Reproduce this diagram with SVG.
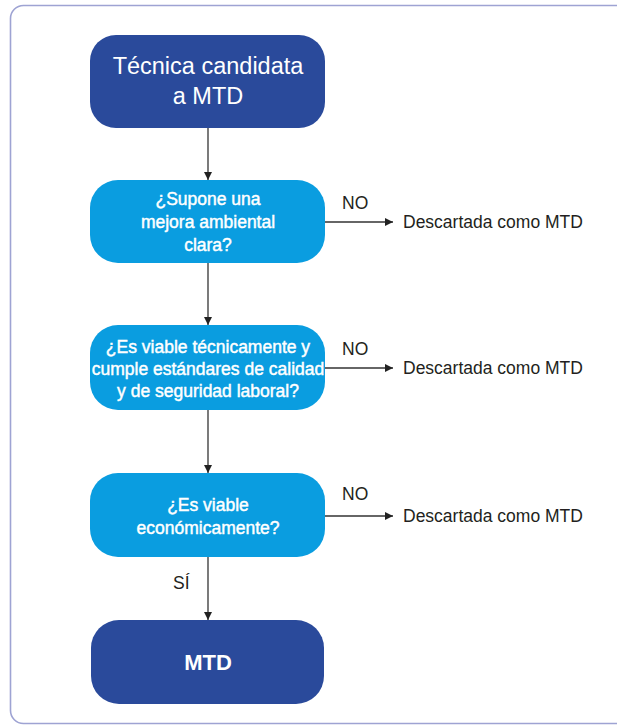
<svg xmlns="http://www.w3.org/2000/svg" width="617" height="725" viewBox="0 0 617 725">
<defs>
<marker id="ah" viewBox="0 0 10 10" refX="10" refY="5" markerWidth="8" markerHeight="8" markerUnits="userSpaceOnUse" orient="auto">
<path d="M0,0 L10,5 L0,10 Z" fill="#222"/>
</marker>
</defs>
<style>
.frame{fill:#fff;stroke:#9ea3d3;stroke-width:1.6}
.dark{fill:#2a4a9b}
.cyan{fill:#0a9de0}
.wt{font-family:"Liberation Sans",Arial,sans-serif;fill:#fff;text-anchor:middle}
.q{font-size:17.5px;stroke:#fff;stroke-width:0.45}
.lbl{font-family:"Liberation Sans",Arial,sans-serif;fill:#231f20;font-size:17.5px}
.conn{stroke:#333;stroke-width:1.3;fill:none;marker-end:url(#ah)}
</style>
<rect x="0" y="0" width="617" height="725" fill="#fff"/>
<rect class="frame" x="10.5" y="5.5" width="670" height="718" rx="13"/>
<g id="n1">
<rect class="dark" x="90" y="35" width="235" height="93" rx="26"/>
<text class="wt" x="208" y="74" font-size="23.5">Técnica candidata</text>
<text class="wt" x="208" y="104" font-size="23.5">a MTD</text>
</g>
<g id="n2">
<rect class="cyan" x="90" y="180" width="235" height="83" rx="28"/>
<text class="wt q" x="208" y="205">¿Supone una</text>
<text class="wt q" x="208" y="228">mejora ambiental</text>
<text class="wt q" x="208" y="251">clara?</text>
</g>
<g id="n3">
<rect class="cyan" x="90" y="325" width="235" height="85" rx="28"/>
<text class="wt q" x="208" y="353">¿Es viable técnicamente y</text>
<text class="wt q" x="208" y="375">cumple estándares de calidad</text>
<text class="wt q" x="208" y="397">y de seguridad laboral?</text>
</g>
<g id="n4">
<rect class="cyan" x="90" y="473" width="235" height="84" rx="28"/>
<text class="wt q" x="208" y="511">¿Es viable</text>
<text class="wt q" x="208" y="534">económicamente?</text>
</g>
<g id="n5">
<rect class="dark" x="91" y="620" width="233" height="84" rx="28"/>
<text class="wt" x="208" y="670" font-size="22" font-weight="bold">MTD</text>
</g>
<g id="connectors">
<line class="conn" x1="208" y1="128" x2="208" y2="180"/>
<line class="conn" x1="208" y1="263" x2="208" y2="325"/>
<line class="conn" x1="208" y1="410" x2="208" y2="473"/>
<line class="conn" x1="208" y1="557" x2="208" y2="620"/>
<line class="conn" x1="325" y1="222" x2="393" y2="222"/>
<line class="conn" x1="325" y1="368" x2="393" y2="368"/>
<line class="conn" x1="325" y1="516" x2="393" y2="516"/>
<text class="lbl" x="342" y="209">NO</text>
<text class="lbl" x="342" y="355">NO</text>
<text class="lbl" x="342" y="500">NO</text>
<text class="lbl" x="403" y="228">Descartada como MTD</text>
<text class="lbl" x="403" y="374">Descartada como MTD</text>
<text class="lbl" x="403" y="522">Descartada como MTD</text>
<text class="lbl" x="173" y="589">SÍ</text>
</g>
</svg>
